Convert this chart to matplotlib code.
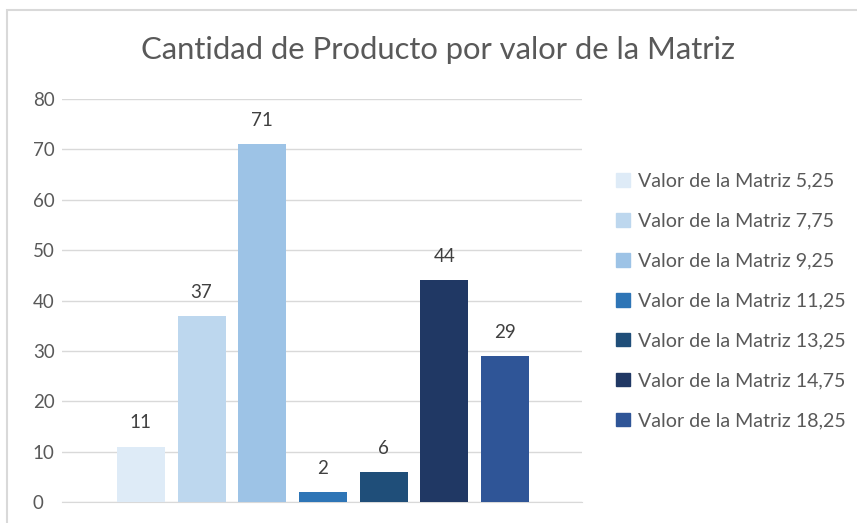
import matplotlib.pyplot as plt
from matplotlib.patches import Rectangle

series = ["Valor de la Matriz 5,25", "Valor de la Matriz 7,75", "Valor de la Matriz 9,25",
          "Valor de la Matriz 11,25", "Valor de la Matriz 13,25", "Valor de la Matriz 14,75",
          "Valor de la Matriz 18,25"]
values = [11, 37, 71, 2, 6, 44, 29]
colors = ["#DEEBF7", "#BDD7EE", "#9DC3E6", "#2E75B6", "#1F4E79", "#203864", "#2F5597"]
yticks = [0, 10, 20, 30, 40, 50, 60, 70, 80]

plt.rcParams['font.family'] = ['Lato', 'DejaVu Sans']
W, H = 857, 523
fig = plt.figure(figsize=(W / 100, H / 100), dpi=100)

# chart border (left & top visible)
fig.patches.append(Rectangle((7.5 / W, -0.1), 1.2, 1 - 10.5 / H + 0.1, transform=fig.transFigure,
                             fill=False, edgecolor="#D9D9D9", linewidth=1.5, zorder=0))

ax = fig.add_axes([62 / W, 1 - 502 / H, (582 - 62) / W, (502 - 99) / H])
x = list(range(len(values)))
bars = ax.bar(x, values, width=0.79, color=colors, zorder=3)
for xi, v in zip(x, values):
    ax.text(xi, v + 3, str(v), ha="center", va="bottom", fontsize=13.5, color="#404040")

ax.set_xlim(-1.30, 7.27)
ax.set_ylim(0, 80)
ax.set_yticks(yticks)
ax.set_xticks([])
ax.grid(axis="y", color="#D9D9D9", linewidth=1, zorder=0)
for s in ["top", "right", "left"]:
    ax.spines[s].set_visible(False)
ax.spines["bottom"].set_color("#D9D9D9")
ax.tick_params(axis="y", length=0, labelsize=13.5, labelcolor="#595959", pad=21)
for lbl in ax.get_yticklabels():
    lbl.set_horizontalalignment("left")

fig.text(438 / W, 1 - 50 / H, "Cantidad de Producto por valor de la Matriz", ha="center", va="center",
         fontsize=22.3, color="#595959")

handles = [Rectangle((0, 0), 1, 1, color=c) for c in colors]
leg = fig.legend(handles, series, loc="center left", bbox_to_anchor=(616 / W, 1 - 301 / H),
                 frameon=False, fontsize=14.1, labelcolor="#595959", handlelength=0.7,
                 handleheight=0.7, handletextpad=0.4, labelspacing=1.17,
                 borderpad=0, borderaxespad=0)

fig.savefig("out.png", dpi=100, facecolor="white")
